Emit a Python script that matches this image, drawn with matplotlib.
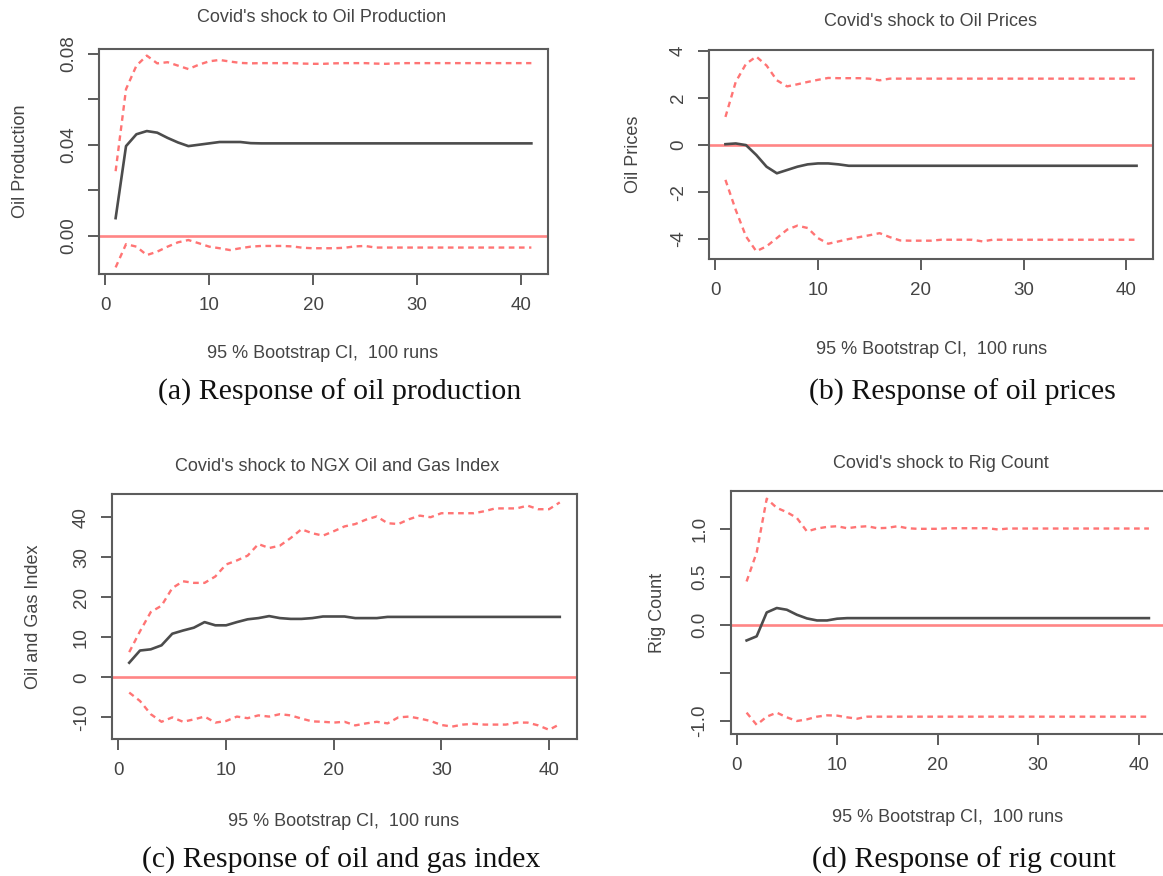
import matplotlib
matplotlib.use('Agg')
import matplotlib.pyplot as plt

plt.rcParams['font.family'] = ['Liberation Sans', 'DejaVu Sans']

# ---------------- data ----------------
steps = list(range(1, 42))
x_ticks = [0, 10, 20, 30, 40]

# (a) Oil production
prod_irf = [0.0078, 0.0394, 0.0446, 0.0460, 0.0453, 0.0430, 0.0410, 0.0394, 0.0400, 0.0406,
            0.0412, 0.0412, 0.0412, 0.0407, 0.0406, 0.0406, 0.0406, 0.0406, 0.0406, 0.0406,
            0.0406, 0.0406, 0.0406, 0.0406, 0.0406, 0.0406, 0.0406, 0.0406, 0.0406, 0.0406,
            0.0406, 0.0406, 0.0406, 0.0406, 0.0406, 0.0406, 0.0406, 0.0406, 0.0406, 0.0406, 0.0406]
prod_upper = [0.0284, 0.0644, 0.0747, 0.0791, 0.0757, 0.0762, 0.0747, 0.0732, 0.0751, 0.0766,
              0.0772, 0.0765, 0.0759, 0.0757, 0.0758, 0.0758, 0.0758, 0.0758, 0.0756, 0.0755,
              0.0755, 0.0757, 0.0758, 0.0758, 0.0758, 0.0756, 0.0755, 0.0757, 0.0758, 0.0758,
              0.0758, 0.0758, 0.0758, 0.0758, 0.0758, 0.0758, 0.0758, 0.0758, 0.0758, 0.0758, 0.0758]
prod_lower = [-0.0138, -0.0036, -0.0047, -0.0084, -0.0069, -0.0047, -0.0028, -0.0018, -0.0032, -0.0047,
              -0.0054, -0.0062, -0.0054, -0.0047, -0.0044, -0.0044, -0.0044, -0.0046, -0.0052, -0.0054,
              -0.0054, -0.0054, -0.0052, -0.0046, -0.0044, -0.0051, -0.0051, -0.0051, -0.0051, -0.0051,
              -0.0051, -0.0051, -0.0051, -0.0051, -0.0051, -0.0051, -0.0051, -0.0051, -0.0051, -0.0051, -0.0051]

# (b) Oil prices
price_irf = [0.04, 0.07, 0.00, -0.42, -0.92, -1.20, -1.06, -0.92, -0.82, -0.78,
             -0.78, -0.82, -0.88, -0.88, -0.88, -0.88, -0.88, -0.88, -0.88, -0.88,
             -0.88, -0.88, -0.88, -0.88, -0.88, -0.88, -0.88, -0.88, -0.88, -0.88,
             -0.88, -0.88, -0.88, -0.88, -0.88, -0.88, -0.88, -0.88, -0.88, -0.88, -0.88]
price_upper = [1.20, 2.69, 3.46, 3.77, 3.39, 2.76, 2.50, 2.59, 2.69, 2.78,
               2.86, 2.85, 2.85, 2.85, 2.83, 2.76, 2.83, 2.83, 2.83, 2.83,
               2.83, 2.83, 2.83, 2.83, 2.83, 2.83, 2.83, 2.83, 2.83, 2.83,
               2.83, 2.83, 2.83, 2.83, 2.83, 2.83, 2.83, 2.83, 2.83, 2.83, 2.83]
price_lower = [-1.48, -2.76, -3.89, -4.52, -4.31, -3.96, -3.60, -3.43, -3.53, -3.96,
               -4.20, -4.10, -4.00, -3.92, -3.84, -3.75, -3.92, -4.06, -4.07, -4.07,
               -4.07, -4.03, -4.03, -4.03, -4.03, -4.10, -4.03, -4.03, -4.03, -4.03,
               -4.03, -4.03, -4.03, -4.03, -4.03, -4.03, -4.03, -4.03, -4.03, -4.03, -4.03]

# (c) NGX Oil and Gas Index
index_irf = [3.65, 6.7, 7.0, 8.0, 10.9, 11.7, 12.4, 13.8, 13.0, 13.0,
             13.8, 14.5, 14.8, 15.3, 14.8, 14.6, 14.6, 14.8, 15.2, 15.2,
             15.2, 14.8, 14.8, 14.8, 15.1, 15.1, 15.1, 15.1, 15.1, 15.1,
             15.1, 15.1, 15.1, 15.1, 15.1, 15.1, 15.1, 15.1, 15.1, 15.1, 15.1]
index_upper = [6.3, 11.5, 16.3, 17.9, 22.3, 24.0, 23.6, 23.6, 25.2, 28.2,
               29.2, 30.4, 33.3, 32.3, 32.9, 34.8, 37.0, 36.0, 35.4, 36.5,
               37.7, 38.3, 39.4, 40.2, 38.5, 38.3, 39.5, 40.4, 40.0, 41.0,
               41.0, 41.0, 41.0, 41.5, 42.2, 42.2, 42.2, 42.9, 42.0, 42.0, 43.7]
index_lower = [-3.8, -5.9, -9.2, -11.1, -10.0, -11.1, -10.5, -9.8, -11.3, -10.9,
               -9.8, -10.2, -9.5, -9.8, -9.2, -9.5, -10.3, -11.0, -11.1, -11.3,
               -11.1, -12.0, -11.5, -11.1, -11.5, -10.0, -9.8, -10.3, -10.9, -11.9,
               -12.3, -11.8, -11.6, -11.8, -11.8, -11.8, -11.3, -11.3, -12.0, -13.1, -11.7]

# (d) Rig count
rig_irf = [-0.163, -0.120, 0.128, 0.174, 0.156, 0.104, 0.066, 0.045, 0.045, 0.063,
           0.069, 0.069, 0.069, 0.069, 0.069, 0.069, 0.069, 0.069, 0.069, 0.069,
           0.069, 0.069, 0.069, 0.069, 0.069, 0.069, 0.069, 0.069, 0.069, 0.069,
           0.069, 0.069, 0.069, 0.069, 0.069, 0.069, 0.069, 0.069, 0.069, 0.069, 0.069]
rig_upper = [0.45, 0.75, 1.31, 1.215, 1.17, 1.11, 0.97, 1.00, 1.017, 1.024,
             1.003, 1.017, 1.024, 1.003, 1.007, 1.024, 1.003, 0.997, 0.997, 0.997,
             1.003, 1.003, 1.003, 1.003, 1.003, 0.990, 1.000, 1.000, 1.000, 1.000,
             1.000, 1.000, 1.000, 1.000, 1.000, 1.000, 1.000, 1.000, 1.000, 1.000, 1.000]
rig_lower = [-0.913, -1.040, -0.955, -0.913, -0.962, -1.000, -0.983, -0.955, -0.941, -0.944,
             -0.962, -0.976, -0.955, -0.955, -0.955, -0.955, -0.955, -0.955, -0.955, -0.955,
             -0.955, -0.955, -0.955, -0.955, -0.955, -0.955, -0.955, -0.955, -0.955, -0.955,
             -0.955, -0.955, -0.955, -0.955, -0.955, -0.955, -0.955, -0.955, -0.955, -0.955, -0.955]

titles = ["Covid's shock to Oil Production", "Covid's shock to Oil Prices",
          "Covid's shock to NGX Oil and Gas Index", "Covid's shock to Rig Count"]
ylabels = ["Oil Production", "Oil Prices", "Oil and Gas Index", "Rig Count"]
xlabel_text = "95 % Bootstrap CI,  100 runs"
captions = ["(a) Response of oil production", "(b) Response of oil prices",
            "(c) Response of oil and gas index", "(d) Response of rig count"]

yticks_a = [0.00, 0.02, 0.04, 0.06, 0.08]
ytl_a = ["0.00", "", "0.04", "", "0.08"]
yticks_b = [-4, -2, 0, 2, 4]
ytl_b = ["-4", "-2", "0", "2", "4"]
yticks_c = [-10, 0, 10, 20, 30, 40]
ytl_c = ["-10", "0", "10", "20", "30", "40"]
yticks_d = [-1.0, -0.5, 0.0, 0.5, 1.0]
ytl_d = ["-1.0", "", "0.0", "0.5", "1.0"]

# ---------------- figure ----------------
W, H = 1163, 876
fig = plt.figure(figsize=(W / 100, H / 100), dpi=100)
fig.patch.set_facecolor('white')

TXT = '#444444'
FRAME = '#5c5c5c'
RED_D = '#ff7474'
RED_Z = '#ff8585'
IRF_C = '#4c4c4c'


def fx(px):
    return px / W


def fy(py):
    return 1 - py / H


def panel(box, irf, lo, hi, ylim, yticks, ytl, title, title_xy, ylab, ylab_x,
          xlab_xy, caption, cap_xy):
    l, r, t, b = box
    ax = fig.add_axes([l / W, 1 - b / H, (r - l) / W, (b - t) / H])
    ax.axhline(0, color=RED_Z, lw=1.9, zorder=1)
    ax.plot(steps, hi, color=RED_D, lw=1.7, dashes=(2.4, 1.9), zorder=2)
    ax.plot(steps, lo, color=RED_D, lw=1.7, dashes=(2.4, 1.9), zorder=2)
    ax.plot(steps, irf, color=IRF_C, lw=1.9, zorder=3)
    ax.set_xlim(-0.6, 42.6)
    ax.set_ylim(*ylim)
    ax.set_xticks(x_ticks)
    ax.set_xticklabels([str(v) for v in x_ticks])
    ax.set_yticks(yticks)
    ax.set_yticklabels(ytl, rotation=90, va='center')
    ax.tick_params(direction='out', length=7.8, width=1.4, color=FRAME,
                   labelsize=13.5, labelcolor=TXT)
    ax.tick_params(axis='x', pad=9.0)
    ax.tick_params(axis='y', pad=8.0)
    for s in ax.spines.values():
        s.set_color(FRAME)
        s.set_linewidth(1.5)
    fig.text(fx(title_xy[0]), fy(title_xy[1]), title, ha='center', va='center',
             fontsize=13, color=TXT)
    fig.text(fx(ylab_x), fy((t + b) / 2), ylab, ha='center', va='center',
             rotation=90, fontsize=13, color=TXT)
    fig.text(fx(xlab_xy[0]), fy(xlab_xy[1]), xlabel_text, ha='center', va='center',
             fontsize=13, color=TXT)
    fig.text(fx(cap_xy[0]), fy(cap_xy[1]), caption, ha='center', va='center',
             fontsize=21.5, color='#111111', family=['Liberation Serif', 'DejaVu Serif'])
    return ax


panel((99, 548, 49, 274), prod_irf, prod_lower, prod_upper, (-0.0167, 0.082),
      yticks_a, ytl_a, titles[0], (322, 17), ylabels[0], 21, (323, 353),
      captions[0], (340, 392))
panel((709, 1153, 50, 259), price_irf, price_lower, price_upper, (-4.85, 4.05),
      yticks_b, ytl_b, titles[1], (930, 22), ylabels[1], 634, (932, 350),
      captions[1], (962, 392))
panel((112, 577, 494, 739), index_irf, index_lower, index_upper, (-15.4, 45.8),
      yticks_c, ytl_c, titles[2], (337, 466), ylabels[2], 34, (344, 822),
      captions[2], (341, 860))
panel((730.5, 1165, 491, 734), rig_irf, rig_lower, rig_upper, (-1.135, 1.39),
      yticks_d, ytl_d, titles[3], (941, 463), ylabels[3], 658, (948, 817),
      captions[3], (964, 860))

fig.savefig('out.png', dpi=100, facecolor='white')
